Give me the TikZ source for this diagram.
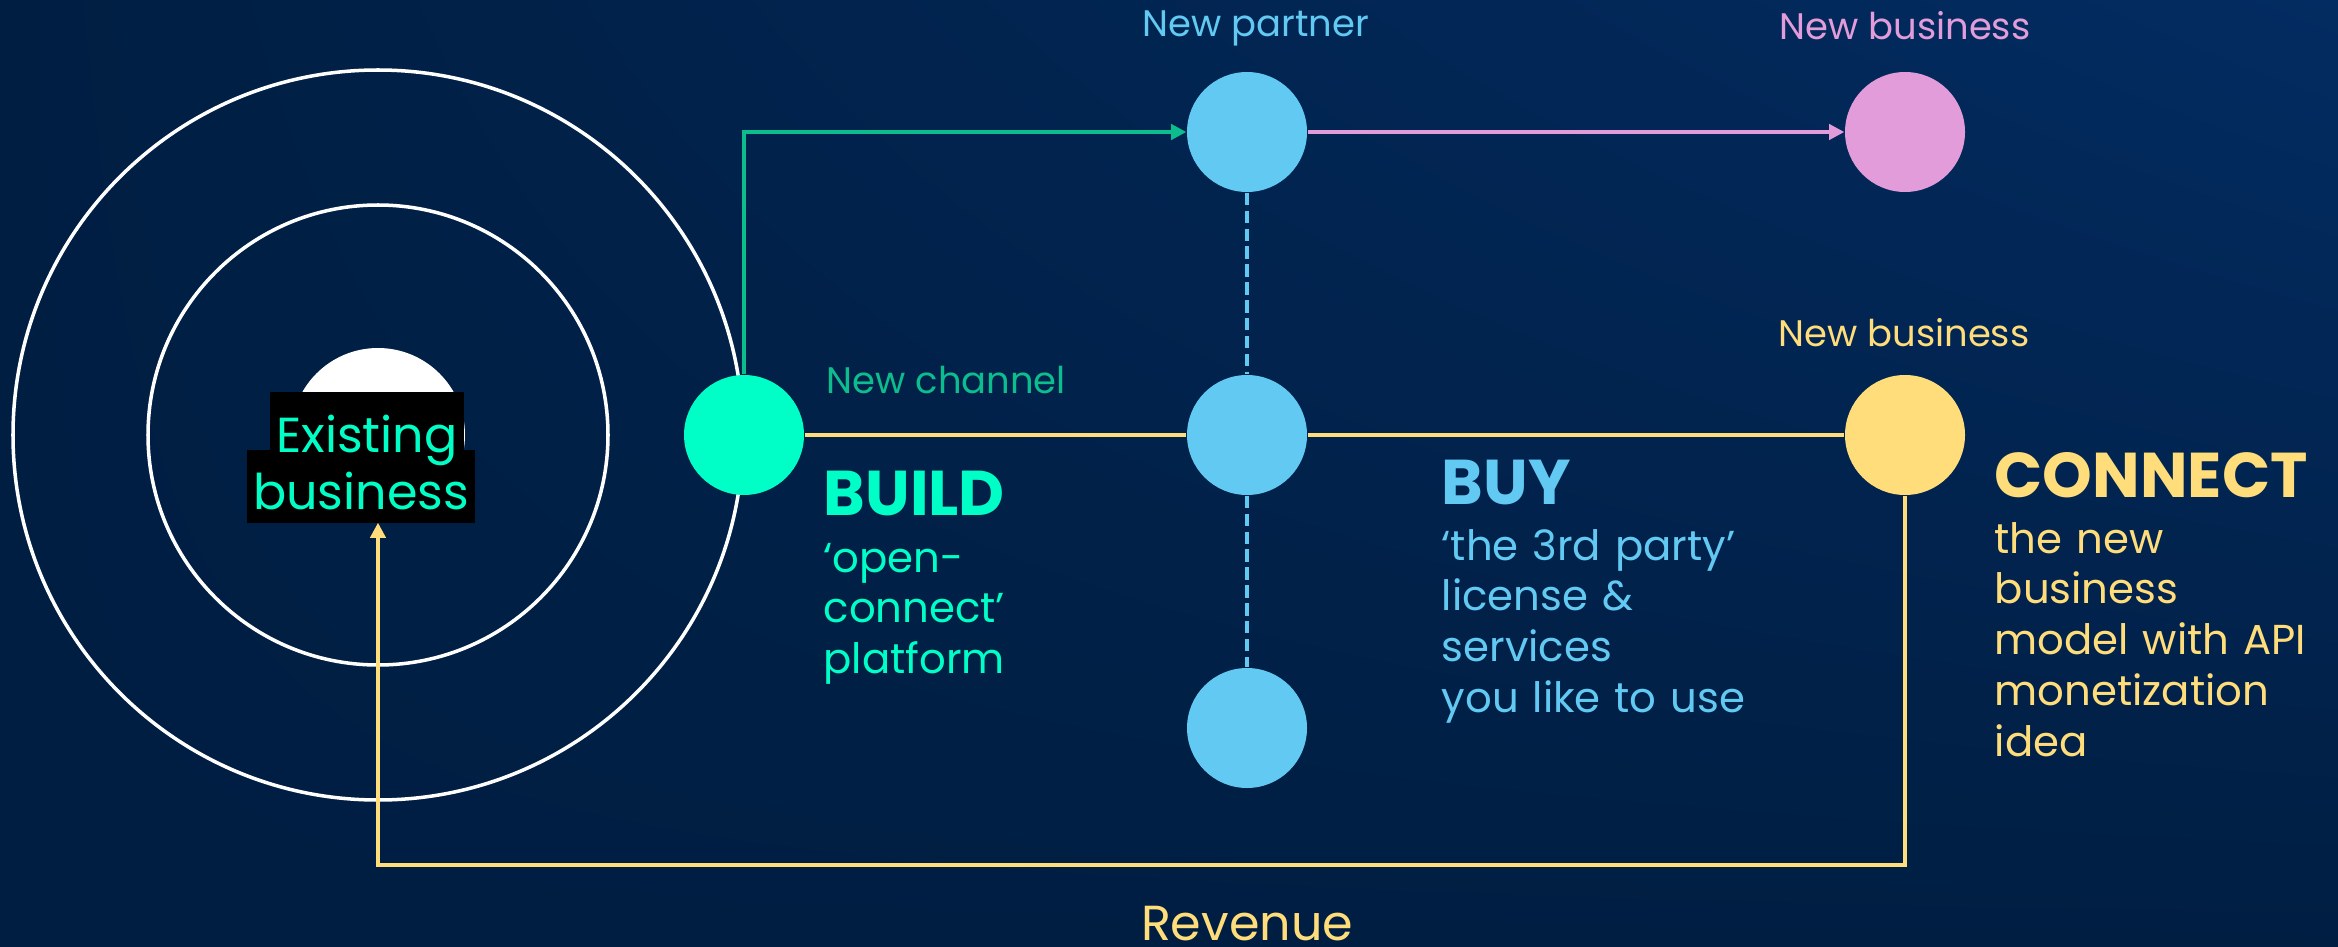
\documentclass[tikz,border=0pt]{standalone}
\usepackage{fontspec}
\setmainfont{Poppins}
\usetikzlibrary{arrows.meta,shadings}

\definecolor{navy}{RGB}{0,30,66}
\definecolor{navylight}{RGB}{3,44,98}
\definecolor{mint}{RGB}{0,255,198}
\definecolor{teal}{RGB}{12,190,142}
\definecolor{sky}{RGB}{98,202,242}
\definecolor{rose}{RGB}{227,156,218}
\definecolor{sand}{RGB}{255,221,122}

\begin{document}
\begin{tikzpicture}[
    dot/.style={circle, minimum size=1.2cm, inner sep=0pt},
    ring/.style={white, line width=1pt},
    link/.style={line width=1pt},
    arrow/.style={->, line width=1pt, >={Triangle[length=4.3pt, width=4.3pt]}},
    tag/.style={font=\fontsize{10.5}{12}\selectfont, anchor=base, inner sep=0pt},
    head/.style={font=\fontsize{18}{20}\selectfont\bfseries, anchor=base west, inner sep=0pt},
    body/.style={font=\fontsize{11.9}{14.5}\selectfont, anchor=base west, inner sep=0pt,
        text width=3.4cm, align=left},
    exist/.style={fill=black, text=mint, font=\fontsize{14}{16}\selectfont, anchor=base,
        inner xsep=0.06cm, inner ysep=0pt}
]

    % Row and column positions
    \def\rowTop{8.14}
    \def\rowMid{5.11}
    \def\rowLow{2.18}
    \def\colBuy{12.47}
    \def\colNew{19.05}

    % Background
    \useasboundingbox (0,0) rectangle (23.38,9.46);
    \shade[lower left=navy, upper left=navy, lower right=navy, upper right=navylight]
        (0,0) rectangle (23.38,9.46);

    % Existing business with its two rings
    \node[dot, fill=white, minimum size=1.74cm] (core) at (3.78,\rowMid) {};
    \draw[ring] (core.center) circle (2.30);
    \draw[ring] (core.center) circle (3.65);
    \node[exist, text height=0.59cm, text depth=0.14cm] (exist2) at (3.61,4.37) {business};
    \node[exist, text height=0.60cm, text depth=0pt] (exist1) at (3.67,4.94) {Existing};

    % Channel, partners and new business dots
    \node[dot, fill=mint] (chan) at (7.44,\rowMid) {};
    \node[dot, fill=sky] (partner) at (\colBuy,\rowTop) {};
    \node[dot, fill=sky] (hub) at (\colBuy,\rowMid) {};
    \node[dot, fill=sky] (lower) at (\colBuy,\rowLow) {};
    \node[dot, fill=rose] (bizTop) at (\colNew,\rowTop) {};
    \node[dot, fill=sand] (bizMid) at (\colNew,\rowMid) {};

    % Connectors
    \draw[arrow, teal] (chan.north) |- (partner.west);
    \draw[arrow, rose] (partner) -- (bizTop);
    \draw[link, sand] (chan) -- (hub);
    \draw[link, sand] (hub) -- (bizMid);
    \draw[link, sky, dash pattern=on 3.5pt off 1.6pt] (partner) -- (hub);
    \draw[link, sky, dash pattern=on 3.5pt off 1.6pt] (hub) -- (lower);

    % Revenue flows back to the existing business
    \coordinate (revenue) at (\colBuy,0.81);
    \draw[arrow, sand] (bizMid.south) |- (revenue) -| (core.south);
    \node[tag, sand, font=\fontsize{14}{16}\selectfont] (revtag) at (\colBuy,0.06) {Revenue};

    % Small labels
    \node[tag, sky] (partnertag) at (12.56,9.09) {New partner};
    \node[tag, rose] (biztoptag) at (19.05,9.06) {New business};
    \node[tag, sand] (bizmidtag) at (19.04,6.00) {New business};
    \node[tag, teal, anchor=base west] (chantag) at (8.26,5.53) {New channel};

    % Build / buy / connect
    \node[head, mint] (build) at (8.23,4.31) {BUILD};
    \node[body, mint] (buildtext) at (8.23,3.74) {‘open-\\connect’\\platform};

    \node[head, sky] (buy) at (14.41,4.42) {BUY};
    \node[body, sky] (buytext) at (14.41,3.86) {‘the 3rd party’\\license \&\\services\\you like to use};

    \node[head, sand] (connect) at (19.94,4.49) {CONNECT};
    \node[body, sand] (connecttext) at (19.94,3.93) {the new\\business\\model with API\\monetization\\idea};

\end{tikzpicture}
\end{document}
